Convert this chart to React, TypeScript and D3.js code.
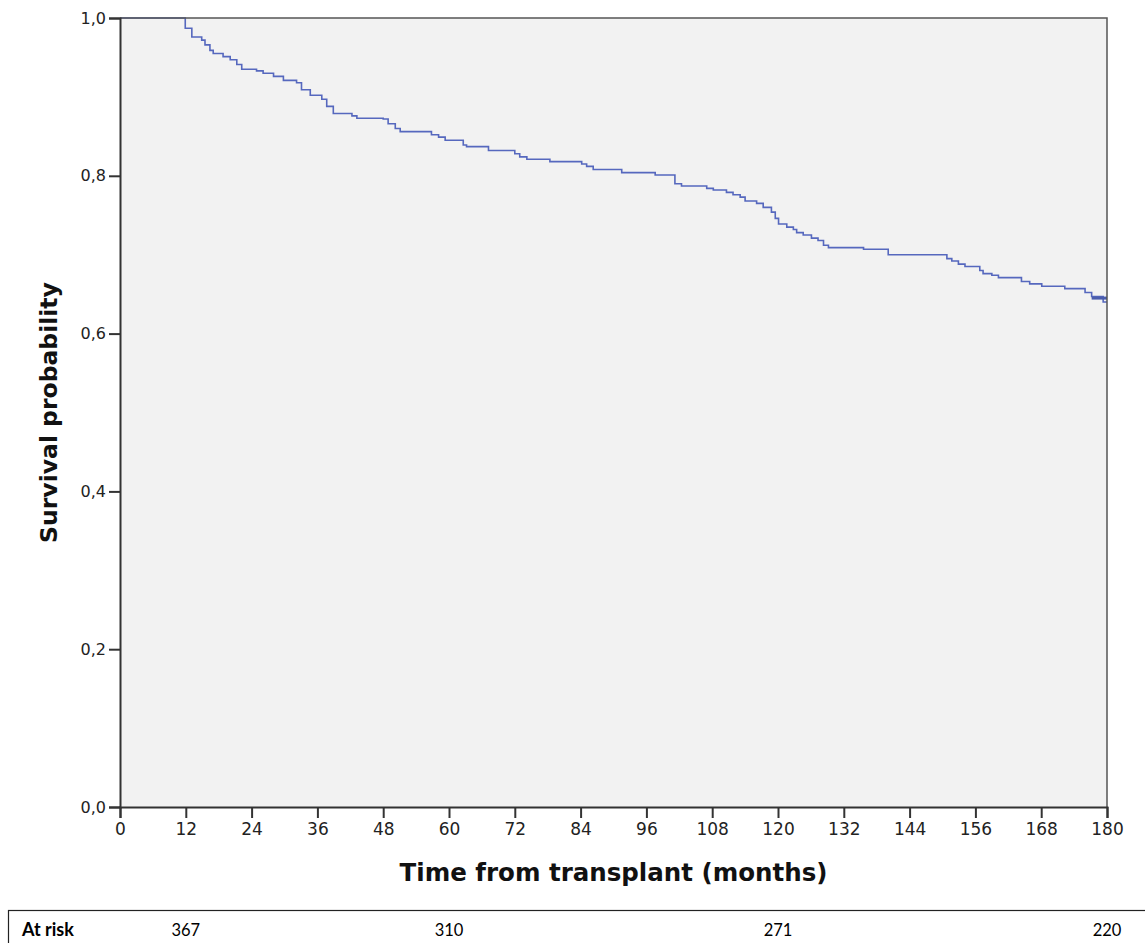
import { useEffect, useRef } from 'react';
import * as d3 from 'd3';

// Kaplan-Meier step points (months, survival)
const eventTimes = [
  0, 11.9, 13.1, 14.9, 15.5, 16.4, 17.0, 18.8, 20.1, 21.3, 22.2, 24.9, 26.1, 28.0, 29.8,
  32.2, 33.1, 34.7, 36.8, 37.7, 38.9, 42.3, 43.2, 48.0, 48.9, 50.2, 51.1, 56.8, 58.1,
  59.3, 62.6, 63.2, 67.2, 72.0, 72.9, 74.2, 78.4, 84.2, 85.1, 86.3, 91.5, 97.6, 101.2,
  102.4, 107.0, 108.2, 110.6, 111.8, 113.1, 114.0, 116.1, 117.3, 118.8, 119.5, 120.1,
  121.6, 122.8, 123.4, 124.6, 126.1, 127.3, 128.3, 129.2, 135.6, 140.1, 150.8, 151.7,
  152.9, 154.1, 156.8, 157.4, 159.0, 160.2, 164.4, 165.9, 168.1, 172.3, 176.0, 177.2,
  179.3,
];
const survival = [
  1.0, 0.987, 0.976, 0.972, 0.966, 0.959, 0.955, 0.951, 0.947, 0.941, 0.935, 0.933, 0.93,
  0.926, 0.921, 0.918, 0.909, 0.902, 0.897, 0.888, 0.879, 0.876, 0.873, 0.872, 0.866,
  0.86, 0.856, 0.852, 0.849, 0.845, 0.839, 0.837, 0.832, 0.828, 0.824, 0.821, 0.818,
  0.815, 0.812, 0.808, 0.804, 0.801, 0.79, 0.787, 0.784, 0.782, 0.779, 0.776, 0.773,
  0.768, 0.765, 0.76, 0.754, 0.746, 0.739, 0.735, 0.732, 0.728, 0.725, 0.721, 0.718,
  0.712, 0.709, 0.707, 0.7, 0.695, 0.692, 0.688, 0.685, 0.68, 0.676, 0.674, 0.671,
  0.666, 0.663, 0.66, 0.657, 0.652, 0.647, 0.64,
];
const endTime = 180;

const xTicks = d3.range(0, 181, 12);
const yTicks = [0, 0.2, 0.4, 0.6, 0.8, 1.0];

const riskMonths = [12, 60, 120, 180];
const riskCounts = [367, 310, 271, 220];

const W = 1145;
const H = 943;
const margin = { left: 120, top: 18, right: 1107, bottom: 807 };

export default function App() {
  const svgRef = useRef<SVGSVGElement>(null);

  useEffect(() => {
    if (!svgRef.current) return;
    const svg = d3.select(svgRef.current);
    svg.selectAll('*').remove();

    const x = d3.scaleLinear().domain([0, 180]).range([margin.left, margin.right]);
    const y = d3.scaleLinear().domain([0, 1]).range([margin.bottom, margin.top]);

    svg.append('rect').attr('width', W).attr('height', H).attr('fill', '#fff');

    // plot background
    svg.append('rect')
      .attr('x', margin.left)
      .attr('y', margin.top)
      .attr('width', margin.right - margin.left)
      .attr('height', margin.bottom - margin.top)
      .attr('fill', '#f2f2f2');

    // KM curve
    const pts: [number, number][] = eventTimes.map((t, i) => [t, survival[i]]);
    pts.push([endTime, survival[survival.length - 1]]);
    const line = d3.line<[number, number]>()
      .x(d => x(d[0]))
      .y(d => y(d[1]))
      .curve(d3.curveStepAfter);
    svg.append('path')
      .attr('d', line(pts))
      .attr('fill', 'none')
      .attr('stroke', '#5668be')
      .attr('stroke-width', 1.6);

    // censored block at the end
    svg.append('line')
      .attr('x1', x(177.2)).attr('x2', x(endTime))
      .attr('y1', y(0.645)).attr('y2', y(0.645))
      .attr('stroke', '#4a5cad').attr('stroke-width', 3);

    // frame
    svg.append('path')
      .attr('d', `M${margin.left},${margin.top}H${margin.right}V${margin.bottom}`)
      .attr('fill', 'none').attr('stroke', '#555').attr('stroke-width', 1.5);

    // y axis
    const yAxis = svg.append('g')
      .attr('transform', `translate(${margin.left},0)`)
      .call(d3.axisLeft(y).tickValues(yTicks).tickSize(11).tickPadding(3)
        .tickFormat(d => d3.format('.1f')(d as number).replace('.', ',')));
    yAxis.select('.domain').attr('stroke', '#333').attr('stroke-width', 2);
    yAxis.selectAll('.tick line').attr('stroke', '#333').attr('stroke-width', 2);
    yAxis.selectAll('.tick text')
      .attr('fill', '#222').attr('font-size', 16).attr('font-family', 'DejaVu Sans, Verdana, sans-serif');

    // x axis
    const xAxis = svg.append('g')
      .attr('transform', `translate(0,${margin.bottom})`)
      .call(d3.axisBottom(x).tickValues(xTicks).tickSize(11).tickPadding(5));
    xAxis.select('.domain').attr('stroke', '#333').attr('stroke-width', 2);
    xAxis.selectAll('.tick line').attr('stroke', '#333').attr('stroke-width', 2);
    xAxis.selectAll('.tick text')
      .attr('fill', '#222').attr('font-size', 17).attr('font-family', 'DejaVu Sans, Verdana, sans-serif');

    // titles
    svg.append('text')
      .attr('x', (margin.left + margin.right) / 2)
      .attr('y', 881)
      .attr('text-anchor', 'middle')
      .attr('font-family', 'DejaVu Sans, Verdana, sans-serif')
      .attr('font-weight', 'bold')
      .attr('font-size', 24.5)
      .attr('fill', '#111')
      .text('Time from transplant (months)');

    svg.append('text')
      .attr('transform', `translate(57,${(margin.top + margin.bottom) / 2}) rotate(-90)`)
      .attr('text-anchor', 'middle')
      .attr('font-family', 'DejaVu Sans, Verdana, sans-serif')
      .attr('font-weight', 'bold')
      .attr('font-size', 23.5)
      .attr('fill', '#111')
      .text('Survival probability');

    // at-risk table
    svg.append('rect')
      .attr('x', 8.5).attr('y', 910.5)
      .attr('width', W).attr('height', 60)
      .attr('fill', 'none').attr('stroke', '#222').attr('stroke-width', 1.2);

    svg.append('text')
      .attr('x', 22).attr('y', 936)
      .attr('font-family', 'Lato, Carlito, sans-serif')
      .attr('font-weight', 'bold')
      .attr('font-size', 18)
      .attr('fill', '#000')
      .text('At risk');

    svg.selectAll('text.risk')
      .data(riskMonths)
      .enter()
      .append('text')
      .attr('class', 'risk')
      .attr('x', d => x(d))
      .attr('y', 936)
      .attr('text-anchor', 'middle')
      .attr('font-family', 'Lato, Carlito, sans-serif')
      .attr('font-size', 16.5)
      .attr('fill', '#000')
      .text((_, i) => riskCounts[i]);
  }, []);

  return (
    <svg
      ref={svgRef}
      width={W}
      height={H}
      style={{ position: 'absolute', left: 0, top: 0, display: 'block' }}
    />
  );
}
